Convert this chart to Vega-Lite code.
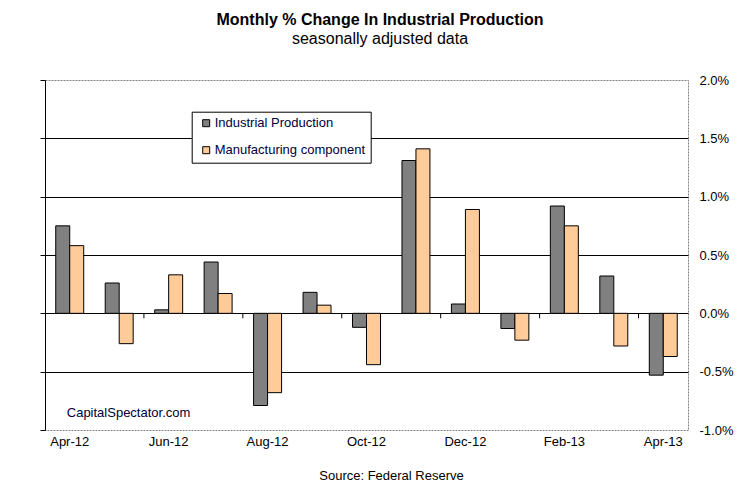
{
  "$schema": "https://vega.github.io/schema/vega-lite/v6.json",
  "width": 643,
  "height": 350,
  "autosize": {"type": "none"},
  "padding": {"left": 45, "top": 80, "right": 67, "bottom": 68},
  "background": "white",
  "title": {
    "text": "Monthly % Change In Industrial Production",
    "subtitle": "seasonally adjusted data",
    "anchor": "middle",
    "dx": 13.5,
    "offset": 27,
    "font": "Liberation Sans",
    "fontSize": 16,
    "fontWeight": "bold",
    "color": "black",
    "subtitleFont": "Liberation Sans",
    "subtitleFontSize": 16,
    "subtitleColor": "black",
    "subtitlePadding": 3
  },
  "data": {
    "values": [
      {"month": "Apr-12", "series": "Industrial Production", "value": 0.75},
      {"month": "Apr-12", "series": "Manufacturing component", "value": 0.58},
      {"month": "May-12", "series": "Industrial Production", "value": 0.26},
      {"month": "May-12", "series": "Manufacturing component", "value": -0.26},
      {"month": "Jun-12", "series": "Industrial Production", "value": 0.03},
      {"month": "Jun-12", "series": "Manufacturing component", "value": 0.33},
      {"month": "Jul-12", "series": "Industrial Production", "value": 0.44},
      {"month": "Jul-12", "series": "Manufacturing component", "value": 0.17},
      {"month": "Aug-12", "series": "Industrial Production", "value": -0.79},
      {"month": "Aug-12", "series": "Manufacturing component", "value": -0.68},
      {"month": "Sep-12", "series": "Industrial Production", "value": 0.18},
      {"month": "Sep-12", "series": "Manufacturing component", "value": 0.07},
      {"month": "Oct-12", "series": "Industrial Production", "value": -0.12},
      {"month": "Oct-12", "series": "Manufacturing component", "value": -0.44},
      {"month": "Nov-12", "series": "Industrial Production", "value": 1.31},
      {"month": "Nov-12", "series": "Manufacturing component", "value": 1.41},
      {"month": "Dec-12", "series": "Industrial Production", "value": 0.08},
      {"month": "Dec-12", "series": "Manufacturing component", "value": 0.89},
      {"month": "Jan-13", "series": "Industrial Production", "value": -0.13},
      {"month": "Jan-13", "series": "Manufacturing component", "value": -0.23},
      {"month": "Feb-13", "series": "Industrial Production", "value": 0.92},
      {"month": "Feb-13", "series": "Manufacturing component", "value": 0.75},
      {"month": "Mar-13", "series": "Industrial Production", "value": 0.32},
      {"month": "Mar-13", "series": "Manufacturing component", "value": -0.28},
      {"month": "Apr-13", "series": "Industrial Production", "value": -0.53},
      {"month": "Apr-13", "series": "Manufacturing component", "value": -0.37}
    ]
  },
  "resolve": {"scale": {"x": "shared", "y": "shared"}, "axis": {"x": "independent", "y": "independent"}},
  "layer": [
    {
      "mark": {"type": "bar", "stroke": "black", "strokeWidth": 1},
      "encoding": {
        "x": {
          "field": "month",
          "type": "nominal",
          "scale": {
            "domain": ["Apr-12", "May-12", "Jun-12", "Jul-12", "Aug-12", "Sep-12", "Oct-12", "Nov-12", "Dec-12", "Jan-13", "Feb-13", "Mar-13", "Apr-13"],
            "paddingInner": 0,
            "paddingOuter": 0
          },
          "axis": {
            "orient": "bottom",
            "title": "Source: Federal Reserve",
            "values": ["Apr-12", "Jun-12", "Aug-12", "Oct-12", "Dec-12", "Feb-13", "Apr-13"],
            "ticks": false,
            "domain": false,
            "grid": false,
            "labelAngle": 0,
            "labelPadding": 5,
            "labelFont": "Liberation Sans",
            "labelFontSize": 13,
            "labelColor": "black",
            "titleX": 346,
            "titleY": 45,
            "titleAlign": "center",
            "titleBaseline": "middle",
            "titleFont": "Liberation Sans",
            "titleFontSize": 13,
            "titleFontWeight": "normal",
            "titleColor": "black"
          }
        },
        "xOffset": {
          "field": "series",
          "type": "nominal",
          "sort": ["Industrial Production", "Manufacturing component"],
          "scale": {"paddingInner": 0, "paddingOuter": 0.768}
        },
        "y": {
          "field": "value",
          "type": "quantitative",
          "scale": {"domain": [-1, 2], "nice": false, "zero": false},
          "axis": {
            "orient": "left",
            "title": null,
            "labels": false,
            "ticks": true,
            "tickSize": 5,
            "tickColor": "black",
            "domain": true,
            "domainColor": "black",
            "grid": true,
            "gridColor": {"condition": {"test": "datum.value > 1.9 || datum.value < -0.9", "value": "transparent"}, "value": "black"},
            "values": [-1, -0.5, 0, 0.5, 1, 1.5, 2]
          }
        },
        "color": {
          "field": "series",
          "type": "nominal",
          "scale": {
            "domain": ["Industrial Production", "Manufacturing component"],
            "range": ["#808080", "#FFCC99"]
          },
          "legend": {
            "title": null,
            "orient": "none",
            "legendX": 146.7,
            "legendY": 31.7,
            "direction": "vertical",
            "strokeColor": "black",
            "fillColor": "white",
            "padding": 5,
            "cornerRadius": 0,
            "symbolType": "square",
            "symbolSize": 49,
            "symbolStrokeColor": "black",
            "symbolStrokeWidth": 1,
            "symbolOffset": 3,
            "labelOffset": 2,
            "rowPadding": 13,
            "labelFont": "Liberation Sans",
            "labelFontSize": 13,
            "labelColor": "#000040"
          }
        }
      }
    },
    {
      "transform": [
        {"filter": {"and": [
          {"field": "series", "equal": "Industrial Production"},
          {"field": "month", "oneOf": ["Jun-12", "Aug-12", "Oct-12", "Dec-12", "Feb-13", "Apr-13"]}
        ]}}
      ],
      "mark": {"type": "rule", "color": "black", "strokeWidth": 1},
      "encoding": {
        "x": {"field": "month", "type": "nominal", "bandPosition": 0, "axis": null},
        "y": {
          "datum": 0,
          "type": "quantitative",
          "axis": {
            "orient": "right",
            "title": null,
            "ticks": false,
            "domain": false,
            "grid": false,
            "labelPadding": 11,
            "labelFlush": false,
            "values": [-1, -0.5, 0, 0.5, 1, 1.5, 2],
            "labelExpr": "(datum.value < 0 ? '-' : '') + format(abs(datum.value), '.1f') + '%'",
            "labelFont": "Liberation Sans",
            "labelFontSize": 13,
            "labelColor": "black"
          }
        },
        "y2": {"datum": -0.043}
      }
    },
    {
      "data": {"values": [{"label": "CapitalSpectator.com", "month": "Apr-12", "pos": -0.85}]},
      "mark": {"type": "text", "align": "left", "baseline": "middle", "font": "Liberation Sans", "fontSize": 13, "color": "#000033"},
      "encoding": {
        "x": {"field": "month", "type": "nominal", "bandPosition": 0.44, "axis": null},
        "y": {"field": "pos", "type": "quantitative", "axis": null},
        "text": {"field": "label"}
      }
    }
  ],
  "config": {
    "font": "Liberation Sans",
    "view": {"stroke": "#808080", "strokeDash": [2, 1]}
  }
}
